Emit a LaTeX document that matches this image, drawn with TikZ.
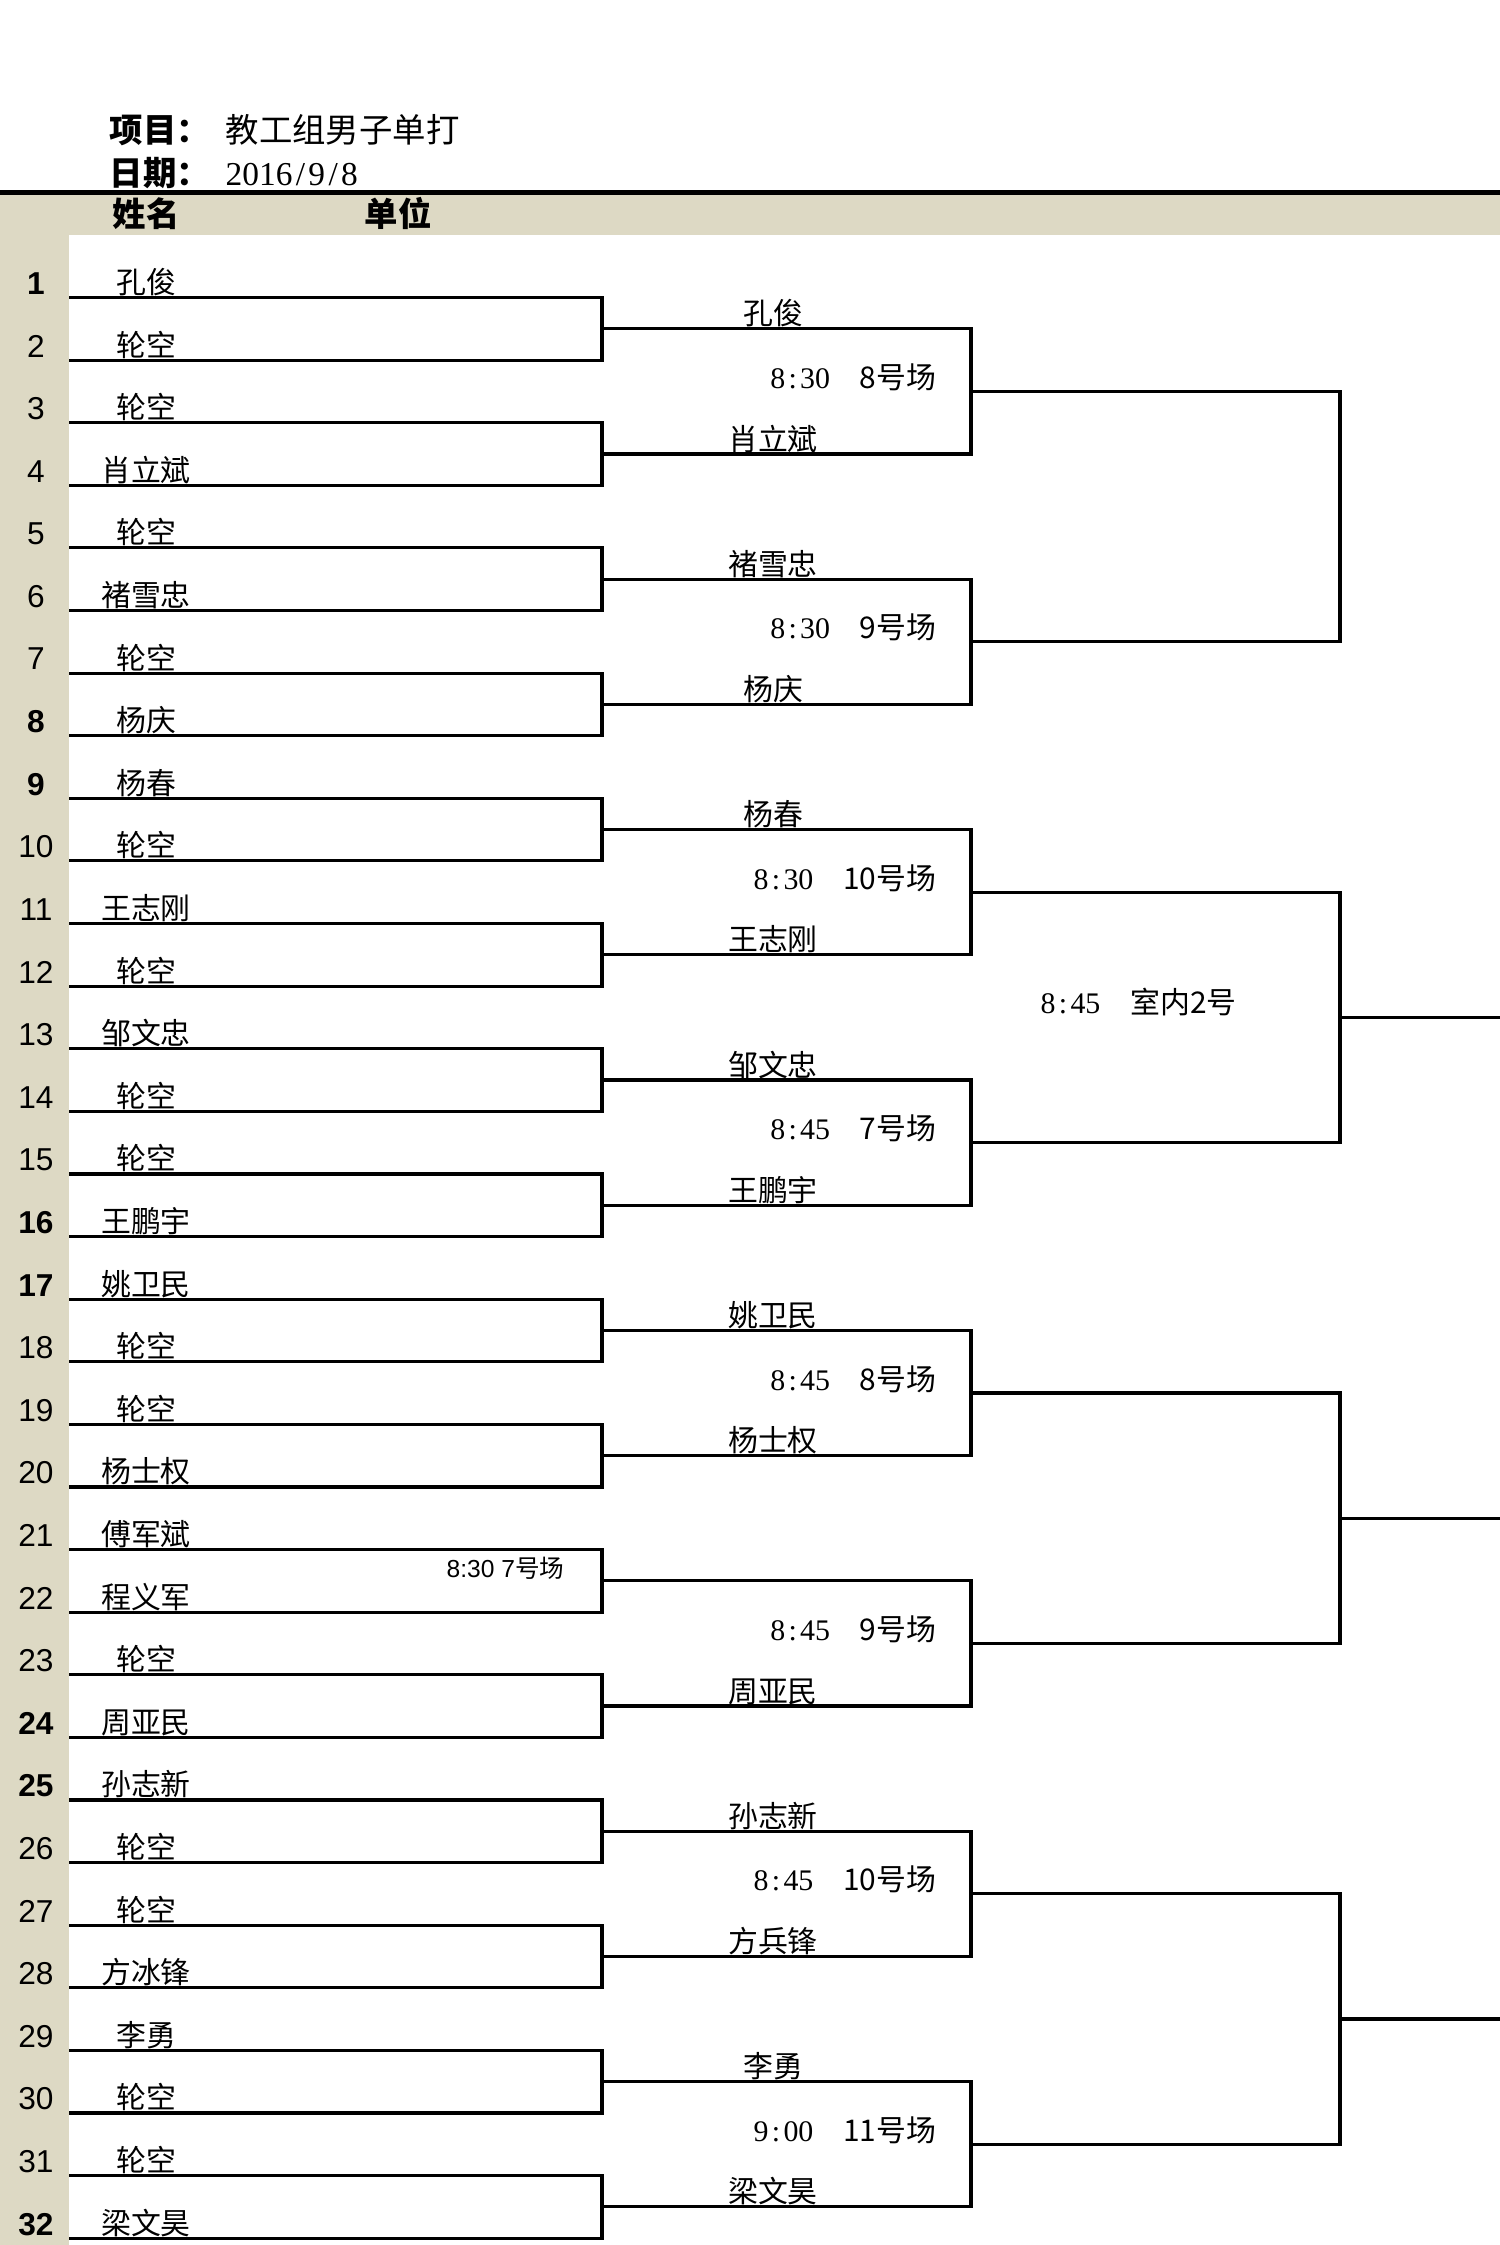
\documentclass[tikz,border=0pt]{standalone}
\usepackage{fontspec}
\setmainfont{Liberation Serif}
\setsansfont{Liberation Sans}
\newfontfamily\cjk{Noto Sans CJK SC}
\usetikzlibrary{calc}
\definecolor{sheettan}{HTML}{DDD9C4}
\tikzset{
  bline/.style={line width=0.9pt},
  player/.style={anchor=base,inner sep=0pt,font=\cjk\fontsize{8.5}{10}\selectfont},
  rowno/.style={inner sep=0pt,font=\sffamily\fontsize{9}{10}\selectfont},
  slot/.style={anchor=base east,inner sep=0pt,font=\fontsize{8.5}{10}\selectfont},
  head/.style={anchor=base west,inner sep=0pt,font=\cjk\bfseries\fontsize{9.5}{11}\selectfont}
}
\newcommand\court[3]{#1\kern.11em:\kern.11em#2\hspace{1em}{\cjk #3}}
\begin{document}
\begin{tikzpicture}[x=0.01cm,y=-0.01cm]
  \useasboundingbox (0,0) rectangle (1500,2245);
  % sheet bands
  \fill[sheettan] (0,195) rectangle (1500,235);
  \fill[sheettan] (0,235) rectangle (69,2245);
  \draw[line width=1.4pt] (0,192.5) -- (1500,192.5);
  % heading
  \node[head] (item) at (109,142) {项目：};
  \node[head,font=\cjk\fontsize{9.5}{11}\selectfont] (event) at (225,142) {教工组男子单打};
  \node[head] (date) at (109,185) {日期：};
  \node[head,font=\fontsize{9.5}{11}\selectfont] (day) at (225,185) {2016\kern.1em/\kern.1em9\kern.1em/\kern.1em8};
  \node[head] (colname) at (112,226) {姓名};
  \node[head] (colunit) at (364,226) {单位};
  % first round
  \foreach \n [count=\i] in {孔俊,轮空,轮空,肖立斌,轮空,褚雪忠,轮空,杨庆,
      杨春,轮空,王志刚,轮空,邹文忠,轮空,轮空,王鹏宇,
      姚卫民,轮空,轮空,杨士权,傅军斌,程义军,轮空,周亚民,
      孙志新,轮空,轮空,方冰锋,李勇,轮空,轮空,梁文昊}{
    \pgfmathsetmacro\ly{297.5+(\i-1)*62.6}
    \pgfmathtruncatemacro\r{mod(\i,8)}
    \coordinate (a\i) at (69,\ly);
    \coordinate (b\i) at (602,\ly);
    \node[rowno] (n\i) at (36,\ly-14) {\ifnum\r<2 \bfseries\fi\i};
    \node[player] (p\i) at (146,\ly-4) {\n};
  }
  \foreach \k in {1,...,16}{
    \pgfmathtruncatemacro\pa{2*\k-1}
    \pgfmathtruncatemacro\pb{2*\k}
    \coordinate (m\k) at ($(b\pa)!.5!(b\pb)$);
    \coordinate (q\k) at ($(m\k)+(369,0)$);
    \draw[bline] (a\pa) -- (b\pa) -- (b\pb) -- (a\pb);
  }
  % second round
  \foreach \k in {1,...,8}{
    \pgfmathtruncatemacro\pa{2*\k-1}
    \pgfmathtruncatemacro\pb{2*\k}
    \coordinate (s\k) at ($(q\pa)!.5!(q\pb)$);
    \coordinate (t\k) at ($(s\k)+(369,0)$);
    \draw[bline] (m\pa) -- (q\pa) -- (q\pb) -- (m\pb);
  }
  % third round
  \foreach \k in {1,...,4}{
    \pgfmathtruncatemacro\pa{2*\k-1}
    \pgfmathtruncatemacro\pb{2*\k}
    \coordinate (u\k) at ($(t\pa)!.5!(t\pb)$);
    \draw[bline] (s\pa) -- (t\pa) -- (t\pb) -- (s\pb);
  }
  \foreach \k in {2,3,4}{
    \coordinate (v\k) at ($(u\k)+(160,0)$);
    \draw[bline] (u\k) -- (v\k);
  }
  % winners and courts
  \foreach \k/\n in {1/孔俊,2/肖立斌,3/褚雪忠,4/杨庆,5/杨春,6/王志刚,7/邹文忠,8/王鹏宇,
      9/姚卫民,10/杨士权,12/周亚民,13/孙志新,14/方兵锋,15/李勇,16/梁文昊}
    \node[player] (w\k) at ($(m\k)+(171,-4)$) {\n};
  \foreach \k/\h/\mm/\c in {1/8/30/8号场,2/8/30/9号场,3/8/30/10号场,4/8/45/7号场,
      5/8/45/8号场,6/8/45/9号场,7/8/45/10号场,8/9/00/11号场}
    \node[slot] (c\k) at ($(s\k)+(-34,-3)$) {\court{\h}{\mm}{\c}};
  \node[slot,anchor=base west] (c9) at ($(u2)+(-300,-4)$) {\court{8}{45}{室内2号}};
  \node[slot,font=\sffamily\fontsize{7}{8}\selectfont] (c0) at ($(b22)+(-37,-35)$) {8:30 7{\cjk 号场}};
\end{tikzpicture}
\end{document}
